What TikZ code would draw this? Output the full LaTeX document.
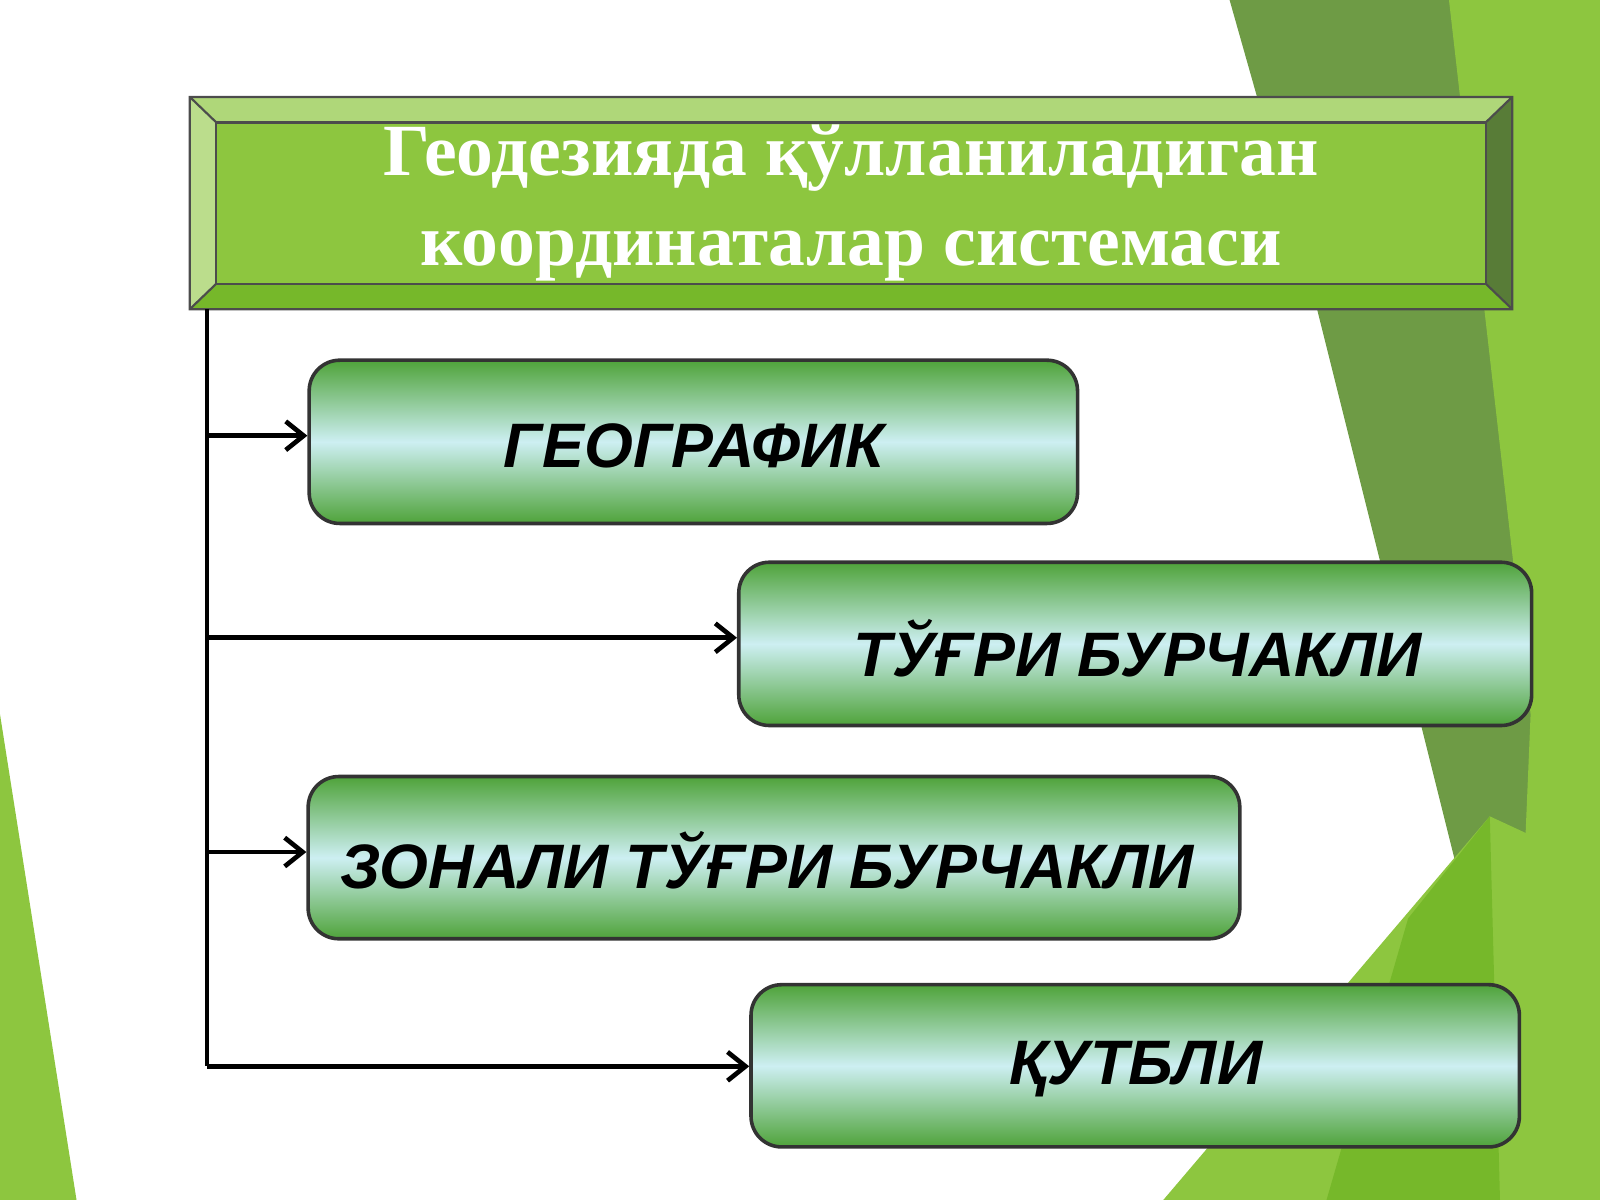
\documentclass[tikz,border=0pt]{standalone}
\usepackage{fontspec}
\setmainfont{Liberation Serif}
\setsansfont{Liberation Sans}
\usetikzlibrary{arrows.meta}
\definecolor{lg}{HTML}{8DC63F}
\definecolor{dg}{HTML}{6E9B45}
\definecolor{mg}{HTML}{76B82A}
\definecolor{bg}{HTML}{4FA33A}
\definecolor{bm}{HTML}{CDEFF2}
\begin{document}
\begin{tikzpicture}[x=0.01cm,y=-0.01cm,
 box/.style={draw=black!80,line width=1pt,rounded corners=0.3cm,top color=bg,bottom color=bg,middle color=bm,inner sep=0pt},
 lbl/.style={font=\sffamily\bfseries\itshape\fontsize{17.5}{21}\selectfont},
 con/.style={line width=1.3pt,-{Straight Barb[length=5pt,width=8pt,line width=1.3pt]}}]
\useasboundingbox (0,0) rectangle (1568,1176);
% background
\fill[dg] (1205,0) -- (1568,0) -- (1568,1176) -- (1440,1176) -- (1440,900) -- (1290,300) -- cycle;
\fill[lg] (1420,0) -- (1568,0) -- (1568,1176) -- (1480,1176) -- (1500,700) -- cycle;
\fill[lg] (1140,1176) -- (1460,800) -- (1568,850) -- (1568,1176) -- cycle;
\fill[mg] (1380,900) -- (1460,800) -- (1470,1176) -- (1300,1176) -- cycle;
\fill[lg] (0,700) -- (75,1176) -- (0,1176) -- cycle;
% title bevel
\fill[lg!70!white] (186,95) -- (1482,95) -- (1456,120) -- (212,120) -- cycle;
\fill[lg!60!white] (186,95) -- (212,120) -- (212,278) -- (186,303) -- cycle;
\fill[dg!80!black] (1482,95) -- (1456,120) -- (1456,278) -- (1482,303) -- cycle;
\fill[mg] (186,303) -- (212,278) -- (1456,278) -- (1482,303) -- cycle;
\node[draw=black!70,fill=lg,minimum width=1244*0.01cm,minimum height=158*0.01cm,inner sep=0pt,line width=0.6pt,
 text=white,font=\bfseries\fontsize{20.5}{25}\selectfont,align=center] (title) at (834,199)
 {Геодезияда қўлланиладиган\\координаталар системаси};
\draw[black!70,line width=0.6pt] (186,95) rectangle (1482,303) (186,95)--(212,120) (1482,95)--(1456,120) (186,303)--(212,278) (1482,303)--(1456,278);
% boxes
\node[box,minimum width=753*0.01cm,minimum height=160*0.01cm] (b1) at (679.5,433) {};
\node[lbl] at (680,437) {ГЕОГРАФИК};
\node[box,minimum width=777*0.01cm,minimum height=160*0.01cm] (b2) at (1112.5,631) {};
\node[lbl] at (1115,635) {ТЎҒРИ БУРЧАКЛИ};
\node[box,minimum width=913*0.01cm,minimum height=159*0.01cm] (b3) at (758.5,840.5) {};
\node[lbl] at (752,843) {ЗОНАЛИ ТЎҒРИ БУРЧАКЛИ};
\node[box,minimum width=753*0.01cm,minimum height=159*0.01cm] (b4) at (1112.5,1044.5) {};
\node[lbl] at (1113,1048) {ҚУТБЛИ};
% connectors
\coordinate (top) at (203,303);
\coordinate (bot) at (203,1045);
\draw[line width=1.3pt] (top) -- (bot);
\draw[con] (203,427) -- (b1.west |- 0,427);
\draw[con] (203,625) -- (b2.west |- 0,625);
\draw[con] (203,835) -- (b3.west |- 0,835);
\draw[con] (bot) -- (b4.west |- bot);
\end{tikzpicture}
\end{document}
